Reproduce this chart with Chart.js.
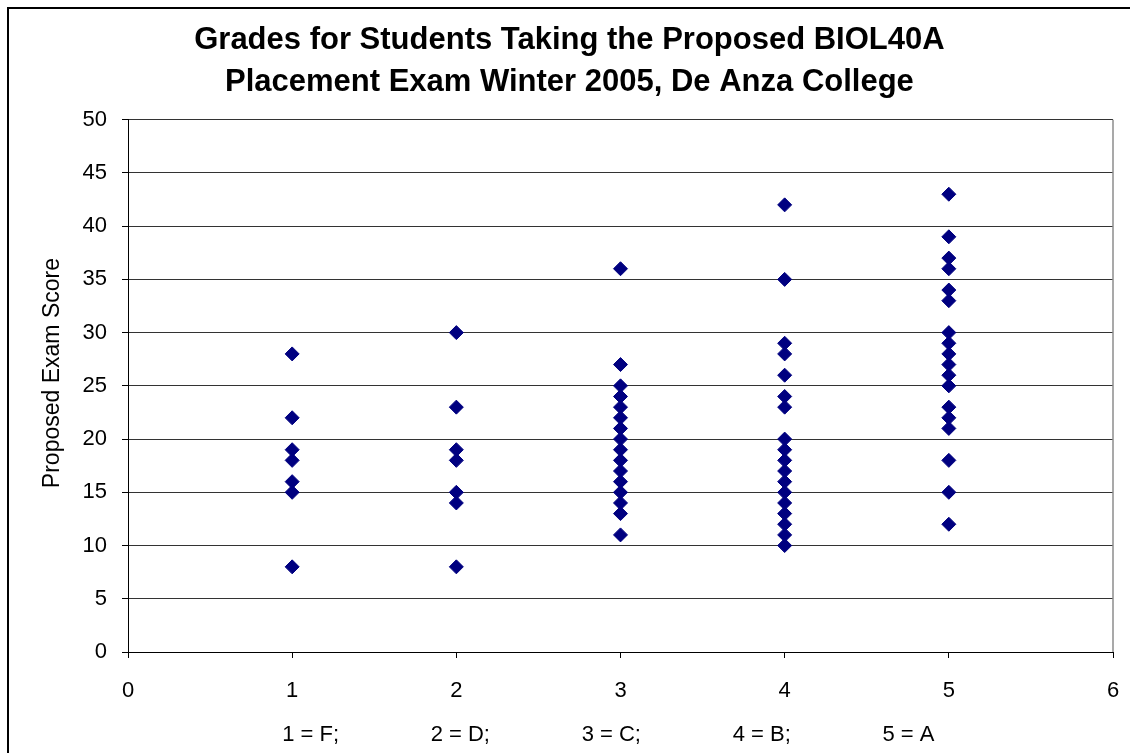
<!DOCTYPE html>
<html>
<head>
<meta charset="utf-8">
<title>Grades vs Proposed BIOL40A Placement Exam</title>
<script src="https://cdn.jsdelivr.net/npm/chart.js@4.4.1/dist/chart.umd.min.js"></script>
<style>
    html, body { margin: 0; padding: 0; background: #ffffff; }
    #wrap { width: 1135px; height: 753px; position: relative; }
</style>
</head>
<body>
<div id="wrap"><canvas id="gradesChart" width="1135" height="753"></canvas></div>
<script>
/* ==========================================================
   Data
========================================================== */
const gradeValues = [1, 2, 3, 4, 5];          // 1 = F ... 5 = A
const scoresF = [28, 22, 19, 18, 16, 15, 8];
const scoresD = [30, 23, 19, 18, 15, 14, 8];
const scoresC = [36, 27, 25, 24, 23, 22, 21, 20, 19, 18, 17, 16, 15, 14, 13, 11];
const scoresB = [42, 35, 29, 28, 26, 24, 23, 20, 19, 18, 17, 16, 15, 14, 13, 12, 11, 10];
const scoresA = [43, 39, 37, 36, 34, 33, 30, 29, 28, 27, 26, 25, 23, 22, 21, 18, 15, 12];

const yTicks = { min: 0, max: 50, step: 5 };
const xTicks = { min: 0, max: 6, step: 1 };

const chartTitle = [
    "Grades for Students Taking the Proposed BIOL40A",
    "Placement Exam Winter 2005, De Anza College"
];
const yAxisTitle = "Proposed Exam Score";
const gradeKey = ["1 = F;", "2 = D;", "3 = C;", "4 = B;", "5 = A"];

const FONT = "'Liberation Sans', Arial, Helvetica, sans-serif";
const GAP = " ".repeat(15);

// Flatten score groups into {x, y} points
const scoreGroups = [scoresF, scoresD, scoresC, scoresB, scoresA];
const points = [];
gradeValues.forEach((grade, i) => {
    scoreGroups[i].forEach(score => points.push({ x: grade, y: score }));
});

/* ==========================================================
   Small drawing helpers (outer frame + plot right edge)
========================================================== */
const framePlugin = {
    id: "frame",
    beforeDraw(chart) {
        const ctx = chart.ctx;
        ctx.save();
        ctx.strokeStyle = "#000";
        ctx.lineWidth = 2;
        ctx.beginPath();
        ctx.moveTo(8, 754);
        ctx.lineTo(8, 8);
        ctx.lineTo(1130, 8);
        ctx.stroke();
        ctx.restore();
    },
    beforeDatasetsDraw(chart) {
        const { ctx, chartArea } = chart;
        ctx.save();
        ctx.strokeStyle = "#8c8c8c";
        ctx.lineWidth = 1.5;
        ctx.beginPath();
        ctx.moveTo(chartArea.right, chartArea.top);
        ctx.lineTo(chartArea.right, chartArea.bottom);
        ctx.stroke();
        ctx.restore();
    }
};

new Chart(document.getElementById("gradesChart"), {
    type: "scatter",
    data: {
        datasets: [{
            label: "Grades",
            data: points,
            pointStyle: "rectRot",
            pointRadius: 7,
            pointHoverRadius: 7,
            backgroundColor: "#000080",
            borderColor: "#000080",
            borderWidth: 1
        }]
    },
    plugins: [framePlugin],
    options: {
        responsive: false,
        animation: false,
        devicePixelRatio: 1,
        layout: { padding: { left: 0, right: 22, top: 0, bottom: 0 } },
        plugins: {
            legend: { display: false },
            tooltip: { enabled: false },
            title: {
                display: true,
                // leading spaces nudge the centred title a little to the right
                text: chartTitle.map(line => "   " + line),
                color: "#000",
                font: { family: FONT, size: 31, weight: "bold", lineHeight: 1.35 },
                padding: { top: 20, bottom: 16 }
            }
        },
        scales: {
            x: {
                type: "linear",
                min: xTicks.min,
                max: xTicks.max,
                afterFit(scale) { scale.height = 101; },
                ticks: {
                    stepSize: xTicks.step,
                    color: "#000",
                    // taller line box pushes the labels down without widening the right padding
                    font: { family: FONT, size: 22, lineHeight: 1.7 },
                    padding: 14,
                    maxRotation: 0
                },
                grid: { drawOnChartArea: false, drawTicks: true, tickLength: 6, color: "#000" },
                border: { color: "#000", width: 1 },
                title: {
                    display: true,
                    text: gradeKey.join(GAP) + "    ",
                    color: "#000",
                    font: { family: FONT, size: 22 },
                    padding: { top: 0, bottom: 5 }
                }
            },
            y: {
                min: yTicks.min,
                max: yTicks.max,
                afterFit(scale) { scale.width = 128; },
                ticks: {
                    stepSize: yTicks.step,
                    color: "#000",
                    font: { family: FONT, size: 22 },
                    padding: 15
                },
                grid: { color: "#333", lineWidth: 1, tickLength: 6, tickColor: "#000" },
                border: { color: "#000", width: 1 },
                title: {
                    display: true,
                    text: "    " + yAxisTitle,
                    color: "#000",
                    font: { family: FONT, size: 23 },
                    padding: { top: 39, bottom: 0 }
                }
            }
        }
    }
});
</script>
</body>
</html>
